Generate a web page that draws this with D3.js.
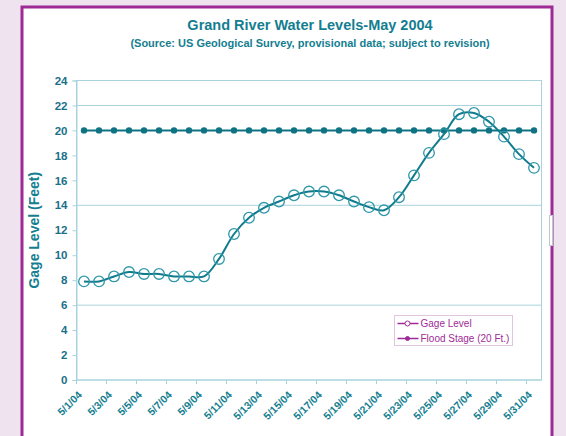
<!DOCTYPE html>
<html>
<head>
<meta charset="utf-8">
<script src="https://cdn.jsdelivr.net/npm/d3@7"></script>
<style>
  body { margin: 0; background: #efe3ef; }
  text { font-family: "Liberation Sans", Arial, sans-serif; }
</style>
</head>
<body>
<div id="chart"></div>
<script>
// Grand River gage levels, May 2004
const days = d3.range(1, 32).map(d => "5/" + d + "/04");
const gageLevel = [7.9, 7.9, 8.3, 8.65, 8.5, 8.5, 8.3, 8.3, 8.3, 9.7,
    11.7, 13.0, 13.8, 14.3, 14.8, 15.1, 15.1, 14.8, 14.3, 13.85,
    13.6, 14.65, 16.4, 18.2, 19.7, 21.3, 21.4, 20.7, 19.5, 18.1, 17.0];
const floodStage = days.map(() => 20);
const yTicks = d3.range(0, 25, 2);
const gridValues = [6, 14, 22];
const legendNames = ["Gage Level", "Flood Stage (20 Ft.)"];

let width = 566, height = 436;
let margin = { left: 76.5, right: 24.5, top: 80.5, bottom: 56 };

let svg = d3.select("#chart").append("svg")
    .attr("width", width)
    .attr("height", height);

// lavender page + white card with purple frame
svg.append("rect")
    .attr("x", 22).attr("y", 7)
    .attr("width", 530).attr("height", 440)
    .attr("fill", "white")
    .attr("stroke", "#9e2b95")
    .attr("stroke-width", 3);

let x = d3.scaleBand()
    .domain(days)
    .range([margin.left, width - margin.right]);

let y = d3.scaleLinear()
    .domain([0, 24])
    .range([height - margin.bottom, margin.top]);

const teal = "#137e90";
const pale = "#a9d3dc";
const purple = "#a02b98";

// titles
svg.append("text")
    .attr("x", 310).attr("y", 30)
    .attr("text-anchor", "middle")
    .attr("fill", teal)
    .style("font-size", "14.5px")
    .style("font-weight", "bold")
    .text("Grand River Water Levels-May 2004");

svg.append("text")
    .attr("x", 310).attr("y", 47)
    .attr("text-anchor", "middle")
    .attr("fill", teal)
    .style("font-size", "11px")
    .style("font-weight", "bold")
    .text("(Source: US Geological Survey, provisional data; subject to revision)");

// plot frame
let x0 = x.range()[0], x1 = x.range()[1];
svg.append("rect")
    .attr("x", x0).attr("y", y(24))
    .attr("width", x1 - x0).attr("height", y(0) - y(24))
    .attr("fill", "none")
    .attr("stroke", pale);

svg.append("g")
    .selectAll("line")
    .data(gridValues)
    .join("line")
    .attr("x1", x0).attr("x2", x1)
    .attr("y1", d => y(d)).attr("y2", d => y(d))
    .attr("stroke", pale);

// y axis
let yAxis = svg.append("g")
    .attr("transform", `translate(${x0},0)`)
    .call(d3.axisLeft(y).tickValues(yTicks).tickSize(4).tickPadding(5));
yAxis.select(".domain").attr("stroke", pale);
yAxis.selectAll(".tick line").attr("stroke", pale);
yAxis.selectAll(".tick text")
    .attr("fill", "#1a7089")
    .style("font-size", "11.5px")
    .style("font-weight", "bold")
    .style("font-family", "Liberation Sans, Arial, sans-serif");

svg.append("text")
    .attr("transform", `translate(39,${(y(0) + y(24)) / 2}) rotate(-90)`)
    .attr("text-anchor", "middle")
    .attr("fill", teal)
    .style("font-size", "14px")
    .style("font-weight", "bold")
    .text("Gage Level (Feet)");

// x axis: ticks every 2 days at band edges, labels on odd days
let xAxisG = svg.append("g");
xAxisG.append("line")
    .attr("x1", x0).attr("x2", x1)
    .attr("y1", y(0)).attr("y2", y(0))
    .attr("stroke", pale);
xAxisG.selectAll(".tk")
    .data(days.filter((d, i) => i % 2 === 0))
    .join("line")
    .attr("class", "tk")
    .attr("x1", d => x(d)).attr("x2", d => x(d))
    .attr("y1", y(0)).attr("y2", y(0) + 4)
    .attr("stroke", pale);
xAxisG.selectAll(".lbl")
    .data(days.filter((d, i) => i % 2 === 0))
    .join("text")
    .attr("class", "lbl")
    .attr("transform", d => `translate(${x(d) + x.bandwidth() / 2 - 4},${y(0) + 13}) rotate(-45)`)
    .attr("text-anchor", "end")
    .attr("dy", "0.35em")
    .attr("fill", teal)
    .style("font-size", "10.5px")
    .style("font-weight", "bold")
    .text(d => d);

let cx = d => x(d) + x.bandwidth() / 2;

// flood stage
let line = d3.line().x(d => cx(d.day)).y(d => y(d.v));
let floodData = days.map((d, i) => ({ day: d, v: floodStage[i] }));
let gageData = days.map((d, i) => ({ day: d, v: gageLevel[i] }));

svg.append("path")
    .datum(floodData)
    .attr("d", line)
    .attr("fill", "none")
    .attr("stroke", "#0f7384")
    .attr("stroke-width", 2);
svg.append("g")
    .selectAll("circle")
    .data(floodData)
    .join("circle")
    .attr("cx", d => cx(d.day)).attr("cy", d => y(d.v))
    .attr("r", 3.2)
    .attr("fill", "#0f7384");

// gage level
svg.append("path")
    .datum(gageData)
    .attr("d", d3.line().curve(d3.curveCatmullRom.alpha(0.5)).x(d => cx(d.day)).y(d => y(d.v)))
    .attr("fill", "none")
    .attr("stroke", "#107b8c")
    .attr("stroke-width", 2);
svg.append("g")
    .selectAll("circle")
    .data(gageData)
    .join("circle")
    .attr("cx", d => cx(d.day)).attr("cy", d => y(d.v))
    .attr("r", 5.3)
    .attr("fill", "none")
    .attr("stroke", "#2f97a8")
    .attr("stroke-width", 1.3);

// legend
let lg = svg.append("g").attr("transform", "translate(394.5,315.5)");
lg.append("rect")
    .attr("width", 118).attr("height", 30)
    .attr("fill", "white")
    .attr("stroke", "#e2c6e0");
legendNames.forEach((name, i) => {
    let ly = 8 + i * 15;
    lg.append("line")
        .attr("x1", 3).attr("x2", 24)
        .attr("y1", ly).attr("y2", ly)
        .attr("stroke", purple).attr("stroke-width", 1.5);
    lg.append("circle")
        .attr("cx", 13).attr("cy", ly)
        .attr("r", i === 0 ? 2.5 : 2)
        .attr("fill", i === 0 ? "white" : purple)
        .attr("stroke", purple);
    lg.append("text")
        .attr("x", 26).attr("y", ly)
        .attr("dy", "0.35em")
        .attr("fill", purple)
        .style("font-size", "10px")
        .text(name);
});

// little handle on the right edge
svg.append("rect")
    .attr("x", 549.5).attr("y", 215.5)
    .attr("width", 3).attr("height", 30)
    .attr("fill", "white")
    .attr("stroke", "#b8c8cc");
</script>
</body>
</html>
